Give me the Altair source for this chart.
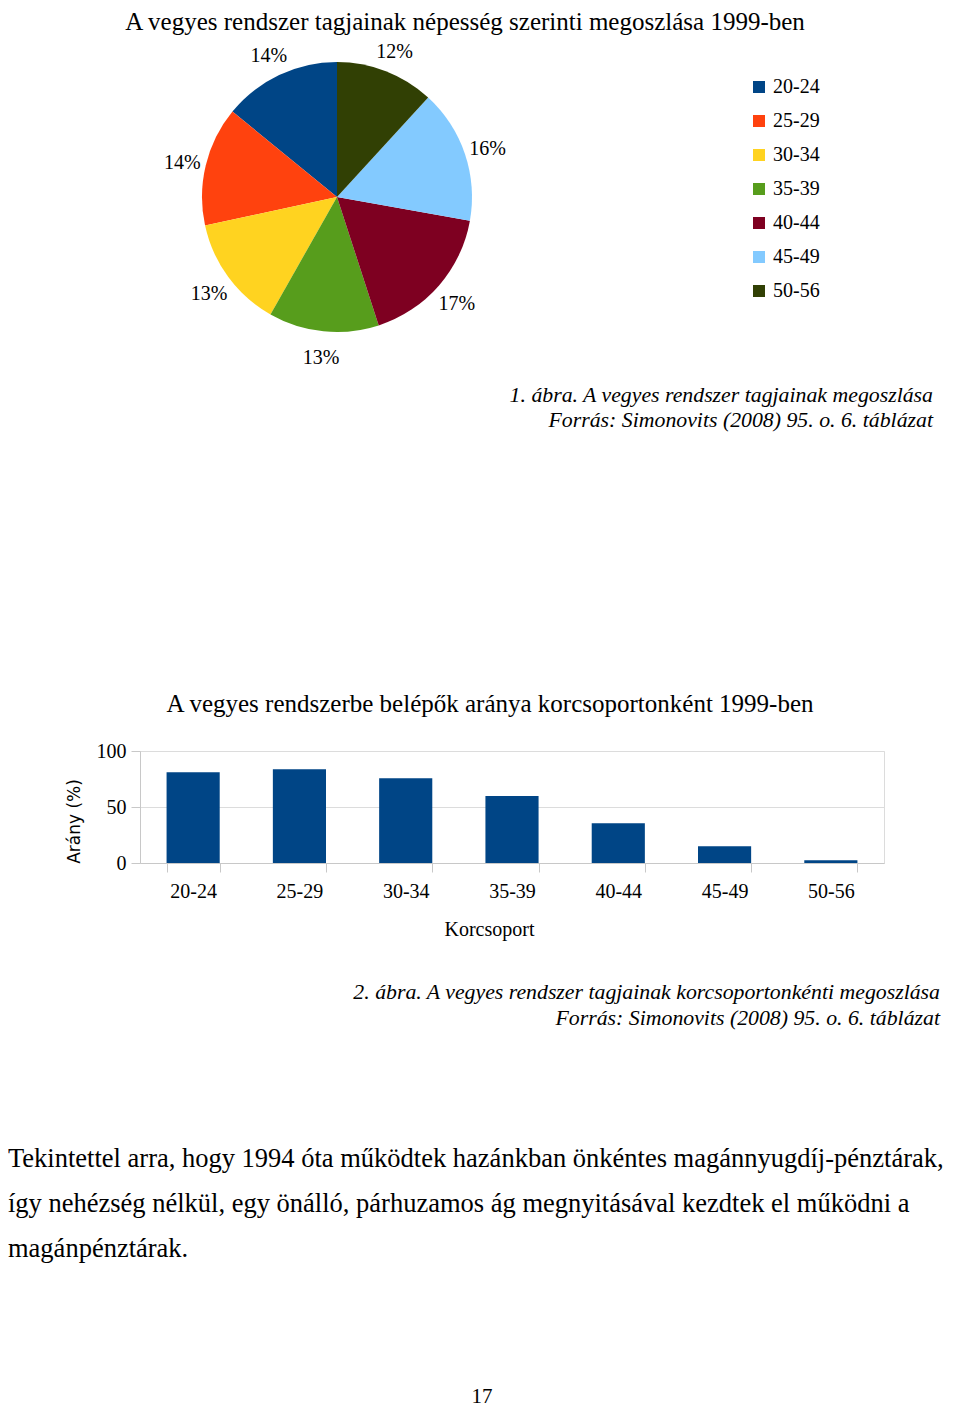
import altair as alt
import pandas as pd

# ---------------- data ----------------
age_groups = ["20-24", "25-29", "30-34", "35-39", "40-44", "45-49", "50-56"]
pie_share = [14.1, 14.3, 13.4, 13.2, 17.2, 16.0, 11.8]
pie_labels = ["14%", "14%", "13%", "13%", "17%", "16%", "12%"]
pie_colors = ["#004586", "#ff420e", "#ffd320", "#579d1c", "#7e0021", "#83caff", "#314004"]
bar_values = [81.1, 83.7, 75.6, 59.8, 35.4, 14.9, 2.4]
y_ticks = [0, 50, 100]

title1 = "A vegyes rendszer tagjainak népesség szerinti megoszlása 1999-ben"
caption1 = ["1. ábra. A vegyes rendszer tagjainak megoszlása",
            "Forrás: Simonovits (2008) 95. o. 6. táblázat"]
title2 = "A vegyes rendszerbe belépők aránya korcsoportonként 1999-ben"
x_title = "Korcsoport"
y_title = "Arány (%)"
caption2 = ["2. ábra. A vegyes rendszer tagjainak korcsoportonkénti megoszlása",
            "Forrás: Simonovits (2008) 95. o. 6. táblázat"]
paragraph = ["Tekintettel arra, hogy 1994 óta működtek hazánkban önkéntes magánnyugdíj-pénztárak,",
             "így nehézség nélkül, egy önálló, párhuzamos ág megnyitásával kezdtek el működni a",
             "magánpénztárak."]
page_number = "17"

SERIF = "Liberation Serif"
SANS = "DejaVu Sans"
GRID = "#dcdcdc"
AXIS = "#c8c8c8"


def text_layer(txt, x, y, size, align="left", style="normal", font=SERIF):
    return alt.Chart(pd.DataFrame({"t": [txt]})).mark_text(
        align=align, baseline="alphabetic", font=font, fontSize=size,
        fontStyle=style, color="black"
    ).encode(text="t:N", x=alt.value(x), y=alt.value(y))


# ---------------- panel 1: pie ----------------
pie_df = pd.DataFrame({"group": age_groups, "share": pie_share,
                       "label": pie_labels, "ord": list(range(len(age_groups)))})
pie_base = alt.Chart(pie_df).encode(
    theta=alt.Theta("share:Q", stack=True),
    order=alt.Order("ord:Q", sort="descending"),
)
arc = pie_base.mark_arc(outerRadius=135).encode(
    x=alt.value(197), y=alt.value(189),
    color=alt.Color("group:N", title=None,
                    scale=alt.Scale(domain=age_groups, range=pie_colors),
                    legend=alt.Legend(orient="none", legendX=609, legendY=69,
                                      symbolType="square", symbolSize=144,
                                      symbolStrokeWidth=0, labelFont=SERIF,
                                      labelFontSize=20, labelColor="black",
                                      labelOffset=4, rowPadding=14, padding=0)),
)
pie_text = pie_base.mark_text(radius=159, dy=3, font=SERIF, fontSize=20, color="black",
                              baseline="middle").encode(
    x=alt.value(197), y=alt.value(189), text="label:N"
)

top = alt.layer(
    text_layer(title1, 325, 22, 25, align="center"),
    arc, pie_text,
    text_layer(caption1[0], 793, 394, 21.8, align="right", style="italic"),
    text_layer(caption1[1], 793, 419, 21.8, align="right", style="italic"),
).properties(width=744, height=743,
             view=alt.ViewBackground(stroke="transparent", strokeWidth=0))

# ---------------- panel 2: bars ----------------
bar_df = pd.DataFrame({"group": age_groups, "value": bar_values})
bars = alt.Chart(bar_df).mark_bar(color="#004586").encode(
    x=alt.X("group:N", sort=age_groups, title=x_title,
            scale=alt.Scale(paddingInner=0.5, paddingOuter=0.25),
            axis=alt.Axis(labelAngle=0, labelFont=SERIF, labelFontSize=20,
                          labelColor="black", labelPadding=9, tickBand="extent",
                          tickColor=AXIS, tickSize=9, domainColor=AXIS,
                          titleFont=SERIF, titleFontSize=20, titleFontWeight="normal",
                          titleColor="black", titleX=349, titleY=72,
                          titleBaseline="alphabetic")),
    y=alt.Y("value:Q", title=y_title,
            scale=alt.Scale(domain=[0, 100]),
            axis=alt.Axis(values=y_ticks, grid=True, gridColor=GRID,
                          tickColor=AXIS, tickSize=9, domainColor=AXIS,
                          labelFont=SERIF, labelFontSize=20, labelColor="black",
                          labelPadding=5, titleFont=SANS, titleFontSize=17,
                          titleFontWeight="normal", titleColor="black",
                          titlePadding=13, titleY=70)),
)
bar_panel = alt.layer(
    bars,
    text_layer(title2, 350, -39, 25, align="center"),
).properties(width=744, height=112,
             view=alt.ViewBackground(stroke=GRID, strokeWidth=1))

# ---------------- panel 3: captions and text ----------------
text_panel = alt.layer(
    text_layer(caption2[0], 800, 136, 21.8, align="right", style="italic"),
    text_layer(caption2[1], 800, 162, 21.8, align="right", style="italic"),
    text_layer(paragraph[0], -132, 304, 26.5),
    text_layer(paragraph[1], -132, 349, 26.5),
    text_layer(paragraph[2], -132, 394, 26.5),
    text_layer(page_number, 342, 540, 21, align="center"),
).properties(width=744, height=530,
             view=alt.ViewBackground(stroke="transparent", strokeWidth=0))

chart = alt.vconcat(top, bar_panel, text_panel, spacing=0, bounds="flush", padding=0
                    ).resolve_scale(color="independent").resolve_legend(color="independent")

chart.save("out.html", embed_options={"renderer": "svg", "actions": False})
